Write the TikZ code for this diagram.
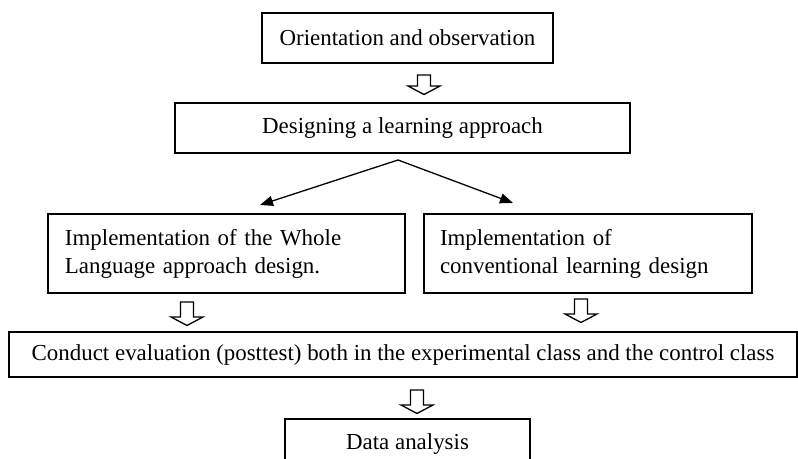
\documentclass[tikz,border=0pt]{standalone}
\usepackage{fontspec}
\setmainfont{Liberation Serif}
\usetikzlibrary{arrows.meta,calc}
\tikzset{box/.style={draw,line width=1.6bp,inner sep=0pt,font=\fontsize{23}{28}\selectfont},
step box/.style={box,align=left,minimum height=79bp},
link/.style={-{Triangle[length=13bp,width=10bp]},line width=1.3bp},
hollow/.style={line width=1.3bp,line join=miter}}

\begin{document}
\begin{tikzpicture}[x=1bp,y=-1bp]
\useasboundingbox (0,0) rectangle (798,459);
\node[box,minimum width=291bp,minimum height=50bp] (orient) at (407.5,38) {Orientation and observation};
\node[box,minimum width=455bp,minimum height=50bp] (design) at (402.5,128) {Designing a learning approach};
\node[step box,text width=323bp,inner xsep=17bp] (whole) at (226.5,253.5)
  {Implementation of the Whole\\Language approach design.};
\node[step box,text width=296bp,inner xsep=16bp] (conv) at (588,253.5)
  {Implementation of\\conventional learning design};
\node[box,minimum width=788bp,minimum height=45bp] (eval) at (403,354.5)
  {Conduct evaluation (posttest) both in the experimental class and the control class};
\node[box,minimum width=245bp,minimum height=50bp] (data) at (407.5,444) {Data analysis};
% split into the two classes
\coordinate (fork) at (398,160);
\coordinate (lt) at (260,205);
\coordinate (rt) at (513,203);
\draw[link] (fork) -- (lt);
\draw[link] (fork) -- (rt);
% hollow down arrows
\coordinate (a1) at (424,75);
\coordinate (a2) at (187,302);
\coordinate (a3) at (581,299);
\coordinate (a4) at (417,390);
\foreach \c/\h in {a1/11,a2/15,a3/15,a4/15}
  \draw[hollow] (\c) ++(-6.5,0) -- ++(0,\h) -- ++(-9.5,0) -- ++(16,8.5)
    -- ++(16,-8.5) -- ++(-9.5,0) -- ++(0,-\h) -- cycle;
\end{tikzpicture}
\end{document}
